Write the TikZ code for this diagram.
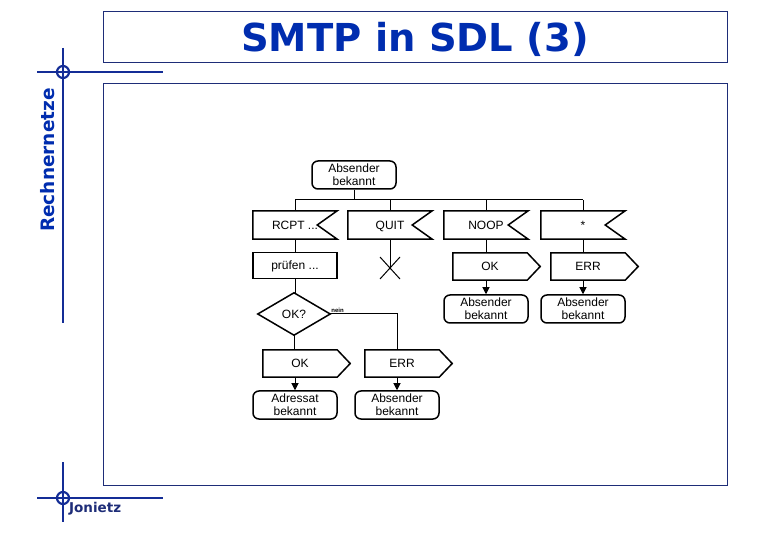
\documentclass[tikz,border=0pt]{standalone}
\usepackage{fontspec}
\setmainfont{Liberation Sans}
\newfontfamily\headfont{DejaVu Sans}
\usetikzlibrary{arrows.meta}
\definecolor{titleblue}{RGB}{0,45,175}
\definecolor{frameblue}{RGB}{30,45,120}
\definecolor{decoblue}{RGB}{20,45,150}
\newcommand{\sdlinput}[1]{\draw[boxline] (#1.north west) -- (#1.north east) -- ([xshift=-20pt]#1.east) -- (#1.south east) -- (#1.south west) -- cycle;}
\newcommand{\sdloutput}[1]{\draw[boxline] (#1.north west) -- (#1.north east) -- ([xshift=13pt]#1.east) -- (#1.south east) -- (#1.south west) -- cycle;}
\newcommand{\sdldecision}[1]{\draw[boxline] (#1.north) -- (#1.east) -- (#1.south) -- (#1.west) -- cycle;}
\tikzset{
  boxline/.style={draw=black, line width=1.5pt, line join=miter},
  conn/.style={draw=black, line width=1pt},
  arr/.style={conn, -{Triangle[width=7pt,length=7pt]}},
  base/.style={font=\fontsize{12}{13}\selectfont, align=center, inner sep=0pt, minimum width=84pt, minimum height=28pt},
  oneline/.style={text height=8.6pt, text depth=0pt},
  statebox/.style={base, boxline, rounded corners=6pt},
  taskbox/.style={base, oneline, boxline, minimum height=26pt},
  sigbox/.style={base, oneline},
  outbox/.style={base, oneline, minimum width=74pt, minimum height=27pt},
  decbox/.style={base, oneline, minimum width=72pt, minimum height=42pt},
  frame/.style={draw=frameblue, line width=1pt},
  deco/.style={draw=decoblue, line width=2.2pt},
}
\begin{document}
\begin{tikzpicture}[x=1pt,y=-1pt]
\useasboundingbox (0,0) rectangle (780,540);
\fill[white] (0,0) rectangle (780,540);
% frames
\draw[frame] (103,12) rectangle (727,63);
\draw[frame] (103,84) rectangle (727,485);
\node[font=\headfont\bfseries\fontsize{38.5}{38.5}\selectfont, text=titleblue, inner sep=0pt, anchor=base] (title) at (415,52) {SMTP in SDL (3)};
% decoration
\draw[deco] (63,48) -- (63,323);
\draw[deco] (37,72) -- (163,72);
\draw[deco] (63,72) circle[radius=6];
\draw[deco] (63,462) -- (63,522);
\draw[deco] (37,498) -- (163,498);
\draw[deco] (63,498) circle[radius=6];
\node[rotate=90, font=\headfont\bfseries\fontsize{18.5}{18.5}\selectfont, text=titleblue, inner sep=0pt] (rn) at (48,160) {Rechnernetze};
\node[anchor=west, font=\headfont\bfseries\fontsize{13.5}{13.5}\selectfont, text=frameblue, inner sep=0pt] (jon) at (69,509) {Jonietz};
% diagram
\node[statebox] (start) at (354,175) {Absender\\bekannt};
\node[sigbox] (rcpt) at (295,225) {RCPT ...};
\node[sigbox] (quit) at (390,225) {QUIT};
\node[sigbox] (noop) at (486,225) {NOOP};
\node[sigbox] (star) at (583,225) {*};
\sdlinput{rcpt}\sdlinput{quit}\sdlinput{noop}\sdlinput{star}
\coordinate (b1) at (295,200);
\coordinate (b4) at (583,200);
\draw[conn] (start.south) -- (start.south |- b1);
\draw[conn] (b1) -- (b4);
\draw[conn] (b1) -- (rcpt.north);
\draw[conn] (quit.north |- b1) -- (quit.north);
\draw[conn] (noop.north |- b1) -- (noop.north);
\draw[conn] (b4) -- (star.north);
% left branch
\node[taskbox] (pruefen) at (295,265.5) {prüfen ...};
\draw[conn] (rcpt.south) -- (pruefen.north);
\node[decbox] (dec) at (294,314) {OK?};
\sdldecision{dec}
\draw[conn] (pruefen.south) -- (pruefen.south |- dec.north);
\node[outbox] (okL) at (300,363.5) {OK};
\node[outbox] (errL) at (402,363.5) {ERR};
\sdloutput{okL}\sdloutput{errL}
\node[statebox] (adr) at (295,405) {Adressat\\bekannt};
\node[statebox] (absL) at (397,405) {Absender\\bekannt};
\draw[conn] (dec.south) -- (dec.south |- okL.north);
\draw[conn] (dec.east) -- (absL.north |- dec.east) -- (absL.north |- errL.north);
\node[font=\bfseries\fontsize{6}{6}\selectfont, anchor=south west, inner sep=1pt] (nein) at (dec.east) {nein};
\draw[arr] (adr.north |- okL.south) -- (adr.north);
\draw[arr] (absL.north |- errL.south) -- (absL.north);
% QUIT stop
\coordinate (stop) at (390,268);
\draw[conn] (quit.south) -- (stop);
\draw[conn] ([shift={(-10,-11)}]stop) -- ([shift={(10,11)}]stop);
\draw[conn] ([shift={(10,-11)}]stop) -- ([shift={(-10,11)}]stop);
% right branches
\node[outbox] (okR) at (490,266.5) {OK};
\node[outbox] (errR) at (588,266.5) {ERR};
\sdloutput{okR}\sdloutput{errR}
\draw[conn] (noop.south) -- (noop.south |- okR.north);
\draw[conn] (star.south) -- (star.south |- errR.north);
\node[statebox] (absR1) at (486,309) {Absender\\bekannt};
\node[statebox] (absR2) at (583,309) {Absender\\bekannt};
\draw[arr] (absR1.north |- okR.south) -- (absR1.north);
\draw[arr] (absR2.north |- errR.south) -- (absR2.north);
\end{tikzpicture}
\end{document}
